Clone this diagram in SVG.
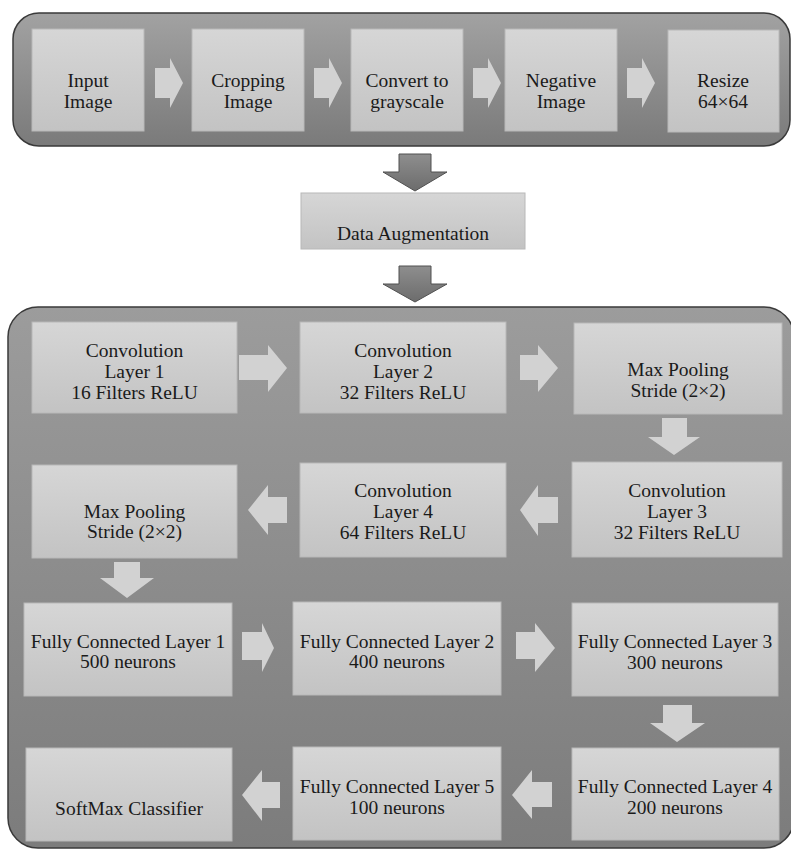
<svg xmlns="http://www.w3.org/2000/svg" width="791" height="850" viewBox="0 0 791 850">
<defs>
<linearGradient id="gCont" x1="0" y1="0" x2="0" y2="1">
<stop offset="0" stop-color="#a2a2a2"/>
<stop offset="1" stop-color="#7a7a7a"/>
</linearGradient>
<linearGradient id="gCont2" x1="0" y1="0" x2="0" y2="1">
<stop offset="0" stop-color="#9c9c9c"/>
<stop offset="1" stop-color="#7c7c7c"/>
</linearGradient>
<linearGradient id="gBox" x1="0" y1="0" x2="0" y2="1">
<stop offset="0" stop-color="#d6d6d6"/>
<stop offset="1" stop-color="#c3c3c3"/>
</linearGradient>
<linearGradient id="gBig" x1="0" y1="0" x2="0" y2="1">
<stop offset="0" stop-color="#8e8e8e"/>
<stop offset="1" stop-color="#6c6c6c"/>
</linearGradient>
</defs>
<style>
.cont{stroke:#3a3a3a;stroke-width:1.5}
.box{fill:url(#gBox);stroke:#b8b8b8;stroke-width:1}
.arr{fill:#d2d2d2;stroke:none}
.big{fill:url(#gBig);stroke:#505050;stroke-width:1}
.t{font-size:19.5px;fill:#1a1a1a;text-anchor:middle}
</style>
<g id="containers">
<rect class="cont" x="13" y="13" width="777" height="133" rx="26" fill="url(#gCont)"/>
<rect class="cont" x="8" y="307" width="786" height="541" rx="30" fill="url(#gCont2)"/>
</g>
<g id="connectors">
<polygon class="arr" points="155,68 170,68 170,58 183,83 170,108 170,98 155,98"/>
<polygon class="arr" points="314,68 329,68 329,58 342,83 329,108 329,98 314,98"/>
<polygon class="arr" points="473,68 488,68 488,58 501,83 488,108 488,98 473,98"/>
<polygon class="arr" points="627,68 642,68 642,58 655,83 642,108 642,98 627,98"/>
<polygon class="big" points="399,154 431,154 431,172 447,172 415,191 383,172 399,172"/>
<polygon class="big" points="399,266 431,266 431,284 447,284 415,302 383,284 399,284"/>
<polygon class="arr" points="239,355 268,355 268,345 287,368 268,392 268,380 239,380"/>
<polygon class="arr" points="520,355 538,355 538,345 558,368 538,392 538,380 520,380"/>
<polygon class="arr" points="662,418 687,418 687,437 700,437 674,455 648,437 662,437"/>
<polygon class="arr" points="287,497 268,497 268,485 248,510 268,535 268,523 287,523"/>
<polygon class="arr" points="558,497 538,497 538,485 520,510 538,536 538,523 558,523"/>
<polygon class="arr" points="114,562 140,562 140,578 154,578 127,598 100,578 114,578"/>
<polygon class="arr" points="242,632 262,632 262,623 274,648 262,672 262,660 242,660"/>
<polygon class="arr" points="516,632 535,632 535,623 555,648 535,672 535,659 516,659"/>
<polygon class="arr" points="663,705 692,705 692,723 705,723 677,742 650,723 663,723"/>
<polygon class="arr" points="280,782 262,782 262,770 242,795 262,821 262,808 280,808"/>
<polygon class="arr" points="552,782 532,782 532,770 512,795 532,819 532,807 552,807"/>
</g>
<g class="t" font-family="Liberation Serif, Times New Roman, DejaVu Serif, serif">
<g id="n-input"><rect class="box" x="32" y="29" width="112" height="102"/><text x="88" y="87">Input</text><text x="88" y="108">Image</text></g>
<g id="n-crop"><rect class="box" x="192" y="29" width="112" height="102"/><text x="248" y="87">Cropping</text><text x="248" y="108">Image</text></g>
<g id="n-gray"><rect class="box" x="351" y="29" width="112" height="102"/><text x="407" y="87">Convert to</text><text x="407" y="108">grayscale</text></g>
<g id="n-neg"><rect class="box" x="505" y="29" width="112" height="102"/><text x="561" y="87">Negative</text><text x="561" y="108">Image</text></g>
<g id="n-resize"><rect class="box" x="668" y="30" width="111" height="102"/><text x="723" y="87">Resize</text><text x="723" y="108">64×64</text></g>
<g id="n-aug"><rect class="box" x="301" y="193" width="224" height="56"/><text x="413" y="240">Data Augmentation</text></g>
<g id="n-conv1"><rect class="box" x="32" y="322" width="205" height="91"/><text x="134.5" y="357">Convolution</text><text x="134.5" y="378">Layer 1</text><text x="134.5" y="399">16 Filters ReLU</text></g>
<g id="n-conv2"><rect class="box" x="300" y="322" width="206" height="91"/><text x="403" y="357">Convolution</text><text x="403" y="378">Layer 2</text><text x="403" y="399">32 Filters ReLU</text></g>
<g id="n-pool1"><rect class="box" x="574" y="323" width="208" height="91"/><text x="678" y="376">Max Pooling</text><text x="678" y="397">Stride (2×2)</text></g>
<g id="n-conv3"><rect class="box" x="572" y="462" width="210" height="95"/><text x="677" y="497">Convolution</text><text x="677" y="518">Layer 3</text><text x="677" y="539">32 Filters ReLU</text></g>
<g id="n-conv4"><rect class="box" x="300" y="463" width="206" height="94"/><text x="403" y="497">Convolution</text><text x="403" y="518">Layer 4</text><text x="403" y="539">64 Filters ReLU</text></g>
<g id="n-pool2"><rect class="box" x="32" y="465" width="205" height="93"/><text x="134.5" y="518">Max Pooling</text><text x="134.5" y="538">Stride (2×2)</text></g>
<g id="n-fc1"><rect class="box" x="24" y="603" width="208" height="93"/><text x="128" y="648">Fully Connected Layer 1</text><text x="128" y="668">500 neurons</text></g>
<g id="n-fc2"><rect class="box" x="293" y="602" width="208" height="93"/><text x="397" y="648">Fully Connected Layer 2</text><text x="397" y="668">400 neurons</text></g>
<g id="n-fc3"><rect class="box" x="572" y="603" width="206" height="93"/><text x="675" y="648">Fully Connected Layer 3</text><text x="675" y="669">300 neurons</text></g>
<g id="n-fc4"><rect class="box" x="572" y="748" width="207" height="92"/><text x="675" y="793">Fully Connected Layer 4</text><text x="675" y="814">200 neurons</text></g>
<g id="n-fc5"><rect class="box" x="293" y="747" width="208" height="93"/><text x="397" y="793">Fully Connected Layer 5</text><text x="397" y="814">100 neurons</text></g>
<g id="n-softmax"><rect class="box" x="26" y="748" width="206" height="93"/><text x="129" y="815">SoftMax Classifier</text></g>
</g>
</svg>
